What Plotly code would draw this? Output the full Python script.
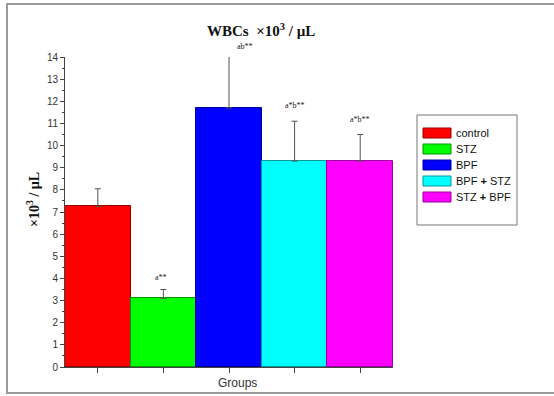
import plotly.graph_objects as go

groups = ["control", "STZ", "BPF", "BPF + STZ", "STZ + BPF"]
means = [7.25, 3.1, 11.7, 9.3, 9.3]
errors = [0.8, 0.4, 2.4, 1.8, 1.2]
sig_labels = ["", "a**", "ab**", "a*b**", "a*b**"]
colors = ["#ff0000", "#00ff00", "#0000ff", "#00ffff", "#ff00ff"]
edge_colors = ["#990000", "#009900", "#000099", "#009999", "#990099"]
y_ticks = list(range(0, 15))
y_max = 14

W, H = 554, 396
L, R, T, B = 65, 393, 57, 367  # plot area in px


def px(x):
    return (x - L) / (R - L)


def py(y):
    return (B - y) / (B - T)


xs = list(range(len(groups)))
fig = go.Figure()
fig.add_trace(go.Bar(
    x=xs, y=means, width=1,
    marker=dict(color=colors, line=dict(color=edge_colors, width=1)),
    error_y=dict(type="data", symmetric=False, array=errors,
                 arrayminus=[0] * len(errors), color="#555555",
                 thickness=1, width=3),
    showlegend=False, cliponaxis=False,
))

annotations = []
label_shift = [0, 12, 8, 16, 15]
label_dx = [0, -2, 16, 0, 0]
for i, (g, m, e, s) in enumerate(zip(groups, means, errors, sig_labels)):
    if s:
        annotations.append(dict(
            x=i, y=(m + e) / y_max, xref="x", yref="paper", text=s, showarrow=False,
            yshift=label_shift[i], xshift=label_dx[i], yanchor="middle",
            font=dict(family="Liberation Serif", size=8, color="#222"),
        ))

# Title and axis titles
annotations.append(dict(x=px(261), y=py(30), xref="paper", yref="paper",
                        xanchor="center", yanchor="middle",
                        text="<b>WBCs  ×10<sup>3</sup> / µL</b>", showarrow=False,
                        font=dict(family="Liberation Serif", size=15, color="#111")))
annotations.append(dict(x=px(33), y=py(200), xref="paper", yref="paper",
                        xanchor="center", yanchor="middle",
                        text="<b>×10<sup>3</sup> / µL</b>", showarrow=False, textangle=-90,
                        font=dict(family="Liberation Serif", size=14, color="#111")))
annotations.append(dict(x=px(237), y=py(383), xref="paper", yref="paper",
                        xanchor="center", yanchor="middle",
                        text="Groups", showarrow=False,
                        font=dict(family="Liberation Sans Narrow, Arial Narrow, sans-serif",
                                  size=12, color="#333")))

shapes = []
# outer frame
shapes.append(dict(type="rect", xref="paper", yref="paper",
                   x0=px(7), x1=px(570), y0=py(393), y1=py(4),
                   line=dict(color="#9a9a9a", width=2), layer="below"))
# legend box
shapes.append(dict(type="rect", xref="paper", yref="paper",
                   x0=px(417), x1=px(517), y0=py(225), y1=py(115),
                   line=dict(color="#777777", width=1)))
row_y = [133, 149, 165, 181, 197]
for i, g in enumerate(groups):
    cy = row_y[i]
    shapes.append(dict(type="rect", xref="paper", yref="paper",
                       x0=px(423), x1=px(451), y0=py(cy + 5), y1=py(cy - 5),
                       fillcolor=colors[i], line=dict(color=edge_colors[i], width=1)))
    annotations.append(dict(x=px(454), y=py(cy), xref="paper", yref="paper",
                            xanchor="left", yanchor="middle",
                            text=g.replace(" + ", " <b>+</b> "),
                            showarrow=False,
                            font=dict(family="Liberation Sans Narrow, Arial Narrow, sans-serif",
                                      size=11, color="#111")))

fig.update_layout(
    width=W, height=H,
    margin=dict(l=L, r=W - R, t=T, b=H - B, pad=0),
    paper_bgcolor="white", plot_bgcolor="white",
    bargap=0,
    annotations=annotations, shapes=shapes,
    font=dict(family="Liberation Sans Narrow, Arial Narrow, sans-serif", size=10, color="#333"),
)
fig.update_xaxes(range=[-0.5, 4.5], tickvals=xs, showticklabels=False,
                 ticks="outside", ticklen=5, tickcolor="#444",
                 showline=True, linecolor="#444", linewidth=1,
                 showgrid=False, zeroline=False)
fig.update_yaxes(range=[0, y_max], tickvals=y_ticks, ticks="outside", ticklen=4,
                 tickcolor="#444", showline=True, linecolor="#444", linewidth=1,
                 showgrid=False, zeroline=False,
                 minor=dict(dtick=0.5, ticks="outside", ticklen=2, tickcolor="#444"),
                 tickfont=dict(size=10, color="#333"))

fig.write_html("out.html")
